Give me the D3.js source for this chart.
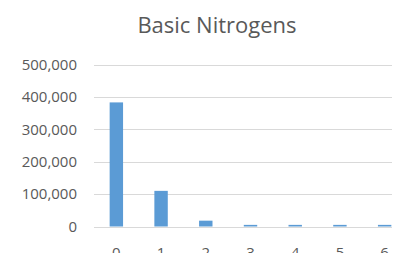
<!DOCTYPE html>
<html>
<head>
<meta charset="utf-8">
<script src="https://cdn.jsdelivr.net/npm/d3@7"></script>
<style>
  html, body { margin: 0; padding: 0; background: #fff; overflow: hidden; }
  text { font-family: "Open Sans", sans-serif; fill: #595959; }
</style>
</head>
<body>
<div id="chart"></div>
<script>
var categories = ["0", "1", "2", "3", "4", "5", "6"];
var values = [383000, 110000, 18000, 5000, 5000, 5000, 5000];
var yTicks = [0, 100000, 200000, 300000, 400000, 500000];
var title = "Basic Nitrogens";

var width = 395, height = 253;
var margin = { top: 64.5, right: -12, bottom: 26.5, left: 94 };

var svg = d3.select("#chart").append("svg")
  .attr("width", width)
  .attr("height", height);

var x = d3.scaleBand()
  .domain(categories)
  .range([margin.left, width - margin.right])
  .paddingInner(0.7)
  .paddingOuter(0.35);

var y = d3.scaleLinear()
  .domain([0, 500000])
  .range([height - margin.bottom, margin.top]);

// gridlines
svg.append("g")
  .selectAll("line")
  .data(yTicks)
  .enter().append("line")
  .attr("x1", margin.left)
  .attr("x2", 392)
  .attr("y1", function(d) { return Math.round(y(d)) + 0.5; })
  .attr("y2", function(d) { return Math.round(y(d)) + 0.5; })
  .attr("stroke", "#d9d9d9")
  .attr("stroke-width", 1);

// y labels
svg.append("g")
  .selectAll("text")
  .data(yTicks)
  .enter().append("text")
  .attr("x", 77)
  .attr("y", function(d) { return y(d); })
  .attr("dy", "0.35em")
  .attr("text-anchor", "end")
  .style("font-size", "15px")
  .text(function(d) { return d3.format(",")(d); });

// bars
svg.append("g")
  .selectAll("rect")
  .data(values)
  .enter().append("rect")
  .attr("x", function(d, i) { return x(categories[i]); })
  .attr("width", x.bandwidth())
  .attr("y", function(d) { return y(d); })
  .attr("height", function(d) { return y(0) - y(d); })
  .attr("fill", "#5b9bd5");

// x labels (cut off by the bottom edge, as in the original)
svg.append("g")
  .selectAll("text")
  .data(categories)
  .enter().append("text")
  .attr("x", function(d) { return x(d) + x.bandwidth() / 2; })
  .attr("y", 258)
  .attr("text-anchor", "middle")
  .style("font-size", "15px")
  .text(function(d) { return d; });

// title
svg.append("text")
  .attr("x", 217)
  .attr("y", 33)
  .attr("text-anchor", "middle")
  .style("font-size", "22px")
  .text(title);
</script>
</body>
</html>
